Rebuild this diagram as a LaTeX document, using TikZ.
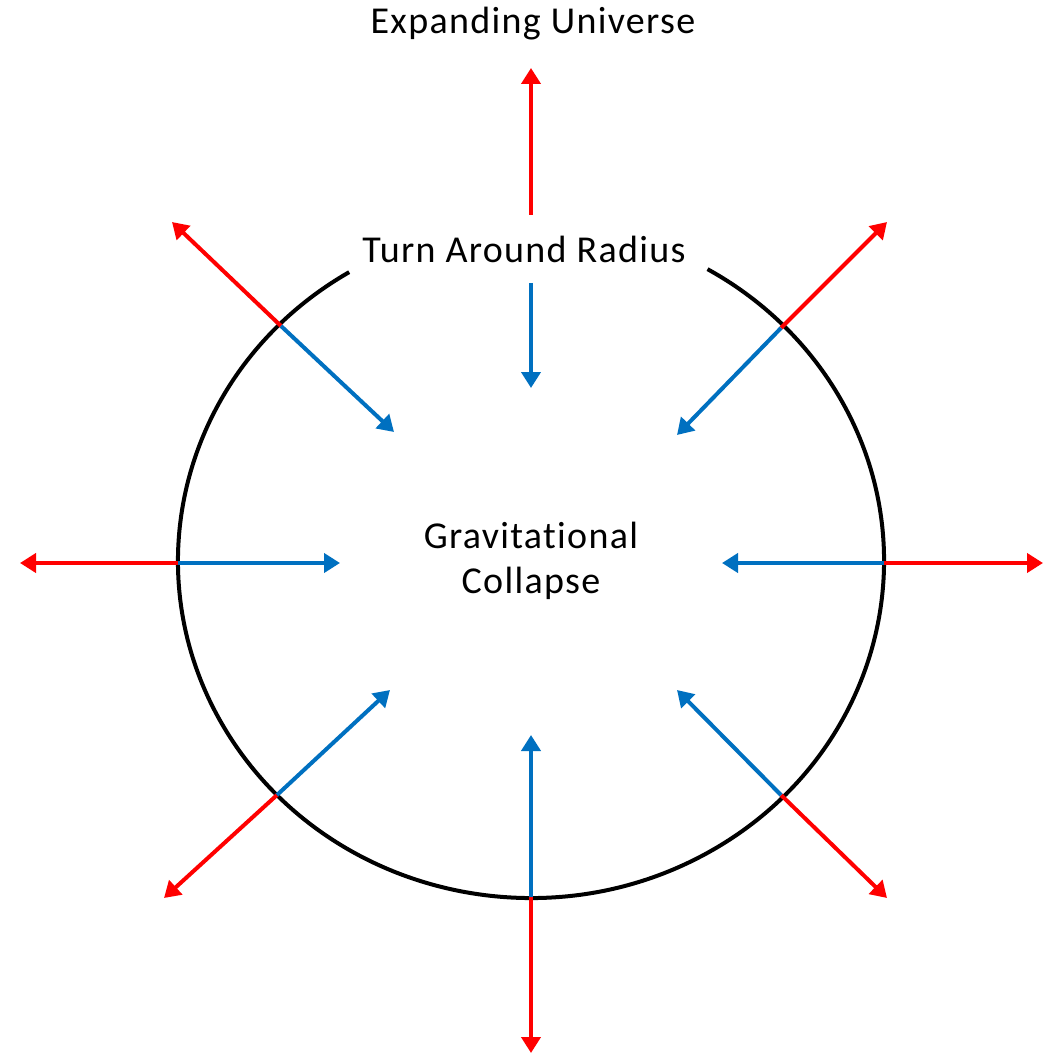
\documentclass[tikz,border=0pt]{standalone}
\usepackage{fontspec}
\setmainfont{Carlito}[LetterSpace=3.5,Ligatures={NoCommon}]
\usetikzlibrary{arrows.meta}
\definecolor{outred}{HTML}{FF0000}
\definecolor{inblue}{HTML}{0070C0}
\tikzset{
  outarrow/.style={draw=outred, line width=4pt, -{Triangle[length=16pt,width=19pt]}},
  inarrow/.style={draw=inblue, line width=4pt, -{Triangle[length=16pt,width=19pt]}},
  lbl/.style={font=\fontsize{38}{45}\selectfont, inner sep=0pt, align=center},
}
\begin{document}
\begin{tikzpicture}[x=1pt,y=-1pt]
\useasboundingbox (0,0) rectangle (1056,1056);
% ring
\draw[line width=4pt] (531,561) ++(121:353pt and 337pt) arc[start angle=121, end angle=420, x radius=353pt, y radius=337pt];
% texts
\node[lbl] (eu) at (533,24) {Expanding Universe};
\node[lbl] (tar) at (524,249) {Turn Around Radius};
\node[lbl] (gc) at (531,561) {Gravitational\\Collapse};
% points on ring
\coordinate (pN1) at (531,215);
\coordinate (pN2) at (531,283);
\coordinate (pNW) at (281,326);
\coordinate (pNE) at (781,328);
\coordinate (pW) at (178,563);
\coordinate (pE) at (884,563);
\coordinate (pSW) at (277,795);
\coordinate (pSE) at (781,795);
\coordinate (pS) at (531,897);
% outer tips
\coordinate (oN) at (531,68);
\coordinate (oNW) at (172,222);
\coordinate (oNE) at (887,222);
\coordinate (oW) at (20,563);
\coordinate (oE) at (1043,563);
\coordinate (oSW) at (164,898);
\coordinate (oSE) at (887,898);
\coordinate (oS) at (531,1053);
% inner tips
\coordinate (iN) at (531,388);
\coordinate (iNW) at (394,432);
\coordinate (iNE) at (677,435);
\coordinate (iW) at (340,563);
\coordinate (iE) at (722,563);
\coordinate (iSW) at (390,690);
\coordinate (iSE) at (677,690);
\coordinate (iS) at (531,735);
% red arrows
\draw[outarrow] (pN1) -- (oN);
\draw[outarrow] (pNW) -- (oNW);
\draw[outarrow] (pNE) -- (oNE);
\draw[outarrow] (pW) -- (oW);
\draw[outarrow] (pE) -- (oE);
\draw[outarrow] (pSW) -- (oSW);
\draw[outarrow] (pSE) -- (oSE);
\draw[outarrow] (pS) -- (oS);
% blue arrows
\draw[inarrow] (pN2) -- (iN);
\draw[inarrow] (pNW) -- (iNW);
\draw[inarrow] (pNE) -- (iNE);
\draw[inarrow] (pW) -- (iW);
\draw[inarrow] (pE) -- (iE);
\draw[inarrow] (pSW) -- (iSW);
\draw[inarrow] (pSE) -- (iSE);
\draw[inarrow] (pS) -- (iS);
\end{tikzpicture}
\end{document}
